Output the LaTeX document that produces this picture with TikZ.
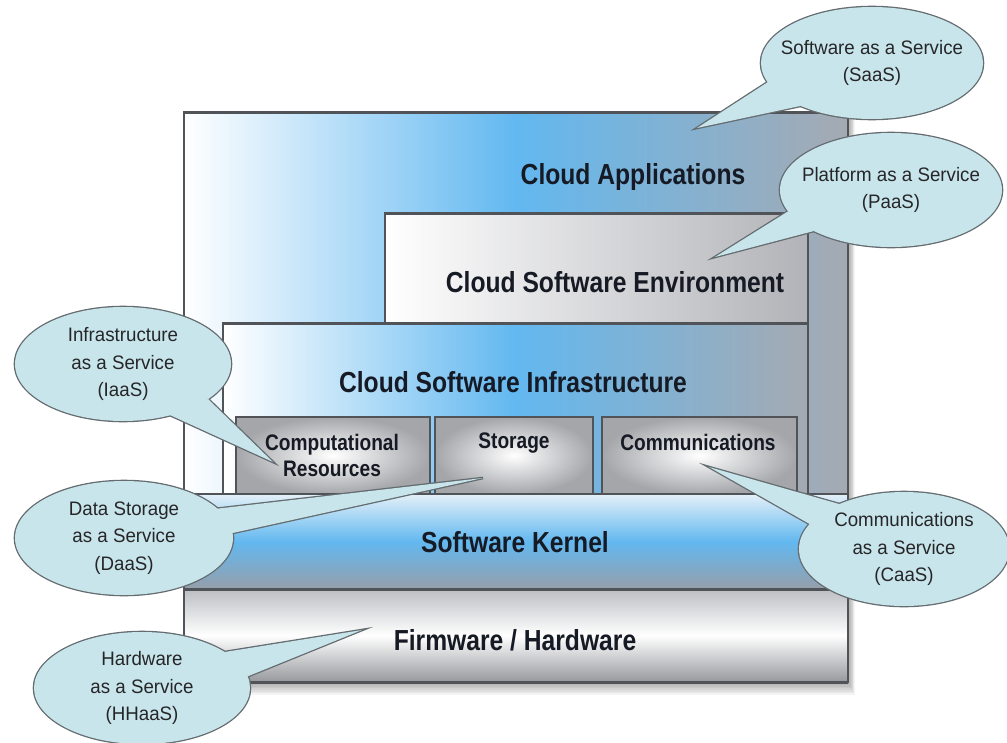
\documentclass[tikz,border=0pt]{standalone}
\usepackage{fontspec}
\setmainfont{Liberation Sans}
\newfontfamily\labfont[FakeStretch=0.85]{Liberation Sans}
\newfontfamily\bubfont[FakeStretch=0.96]{Liberation Sans}
\usetikzlibrary{calc}
\pgfdeclarelayer{boxlayer}
\pgfdeclarelayer{bstroke}
\pgfdeclarelayer{bfill}
\pgfsetlayers{boxlayer,bstroke,bfill,main}
\definecolor{cblue}{RGB}{98,184,240}
\definecolor{cgray}{RGB}{165,170,178}
\definecolor{envgray}{RGB}{178,179,184}
\definecolor{subgray}{RGB}{164,166,170}
\definecolor{kertop}{RGB}{228,240,248}
\definecolor{kerbot}{RGB}{150,158,170}
\definecolor{fwtop}{RGB}{188,190,194}
\definecolor{fwbot}{RGB}{150,152,156}
\definecolor{boxline}{RGB}{80,83,88}
\definecolor{bubfill}{RGB}{200,229,235}
\definecolor{bubline}{RGB}{100,108,112}
\definecolor{labtext}{RGB}{22,26,36}
\definecolor{bubtextc}{RGB}{38,38,40}
\newcommand\mybubble[8]{%
  \node[bubtext] (#1) at #2 {#8};
  \begin{pgfonlayer}{bstroke}
    \draw[draw=bubline, line width=2.6pt, fill=bubfill] (#1.center) ellipse [x radius=#3pt, y radius=#4pt];
    \draw[draw=bubline, line width=2.6pt, fill=bubfill] ($(#1.center)+(#5:#3pt and #4pt)$) -- (#7) -- ($(#1.center)+(#6:#3pt and #4pt)$) -- cycle;
  \end{pgfonlayer}
  \begin{pgfonlayer}{bfill}
    \fill[bubfill] (#1.center) ellipse [x radius=#3pt, y radius=#4pt];
    \fill[bubfill] ($(#1.center)+(#5:#3pt and #4pt)$) -- (#7) -- ($(#1.center)+(#6:#3pt and #4pt)$) -- cycle;
  \end{pgfonlayer}
}
\begin{document}
\begin{tikzpicture}[x=1pt,y=-1pt,
  lab/.style={font={\labfont\bfseries\fontsize{29}{32}\selectfont}, text=labtext, inner sep=0pt},
  sublab/.style={font={\labfont\bfseries\fontsize{22.5}{26}\selectfont}, text=labtext, align=center, inner sep=0pt},
  bubtext/.style={font={\bubfont\fontsize{19.5}{27.5}\selectfont}, text=bubtextc, align=center, inner sep=0pt},
  boxborder/.style={draw=boxline, line width=2pt},
  thickborder/.style={draw=boxline, line width=3pt}
]
\useasboundingbox (0,0) rectangle (1007,742);

\begin{pgfonlayer}{boxlayer}
  \fill[white] (0,0) rectangle (1007,742);
  % soft shadow
  \foreach \i in {1,...,8}
    \fill[black, opacity=0.045] (190,118) rectangle ({848+\i*0.9},{682+\i*1.6});
  % Cloud Applications (outer)
  \shade[left color=white, right color=cgray, middle color=cblue] (184,112) rectangle (848,682);
  \draw[boxborder] (184,112) rectangle (848,682);
  \draw[thickborder] (184,112) -- (848,112);
  % Cloud Software Environment
  \shade[left color=white, right color=envgray] (385,213) rectangle (808,323);
  \draw[boxborder] (385,323) -- (385,213) -- (808,213) -- (808,323);
  \draw[thickborder] (385,213) -- (808,213);
  % Cloud Software Infrastructure
  \shade[left color=white, right color=cgray, middle color=cblue] (223,323) rectangle (808,494);
  \draw[boxborder] (223,323) rectangle (808,494);
  \draw[thickborder] (223,323) -- (808,323);
  % sub boxes
  \shade[inner color=white, outer color=subgray] (236,417) rectangle (430,494);
  \draw[boxborder] (236,417) rectangle (430,494);
  \shade[inner color=white, outer color=subgray] (435,417) rectangle (593,494);
  \draw[boxborder] (435,417) rectangle (593,494);
  \shade[inner color=white, outer color=subgray] (602,417) rectangle (797,494);
  \draw[boxborder] (602,417) rectangle (797,494);
  % Software Kernel
  \shade[top color=kertop, bottom color=kerbot, middle color=cblue] (184,494) rectangle (848,589);
  \draw[boxborder] (184,494) rectangle (848,589);
  % Firmware / Hardware
  \shade[top color=fwtop, bottom color=fwbot, middle color=white] (184,589) rectangle (848,682);
  \draw[boxborder] (184,589) rectangle (848,682);
  \draw[thickborder] (184,589) -- (848,589);
  \draw[thickborder] (184,682) -- (848,682);
\end{pgfonlayer}

% layer labels
\node[lab] (apps) at (633,177) {Cloud Applications};
\node[lab] (env) at (615,282) {Cloud Software Environment};
\node[lab] (infra) at (513,382) {Cloud Software Infrastructure};
\node[sublab] (comp) at (332,455) {Computational\\Resources};
\node[sublab] (stor) at (514,443) {Storage};
\node[sublab] (comm) at (698,442) {Communications};
\node[lab] (kernel) at (515,542) {Software Kernel};
\node[lab] (fw) at (515,640) {Firmware / Hardware};

% tail tips
\coordinate (tsaas) at (697,128);
\coordinate (tpaas) at (715,257);
\coordinate (tiaas) at (273,462);
\coordinate (tdaas) at (483,478);
\coordinate (tcaas) at (709,467);
\coordinate (thhaas) at (362,630);

% bubbles
\mybubble{saas}{(872,63)}{111}{56}{200}{230}{tsaas}{Software as a Service\\(SaaS)}
\mybubble{paas}{(891,190)}{111}{57}{202}{226}{tpaas}{Platform as a Service\\(PaaS)}
\mybubble{iaas}{(123,364)}{108}{57}{296}{322}{tiaas}{Infrastructure\\as a Service\\(IaaS)}
\mybubble{daas}{(124,538)}{109}{57}{5}{31}{tdaas}{Data Storage\\as a Service\\(DaaS)}
\mybubble{caas}{(904,549)}{105}{57}{128}{154}{tcaas}{Communications\\as a Service\\(CaaS)}
\mybubble{hhaas}{(142,688)}{108}{56}{12}{40}{thhaas}{Hardware\\as a Service\\(HHaaS)}
\end{tikzpicture}
\end{document}
